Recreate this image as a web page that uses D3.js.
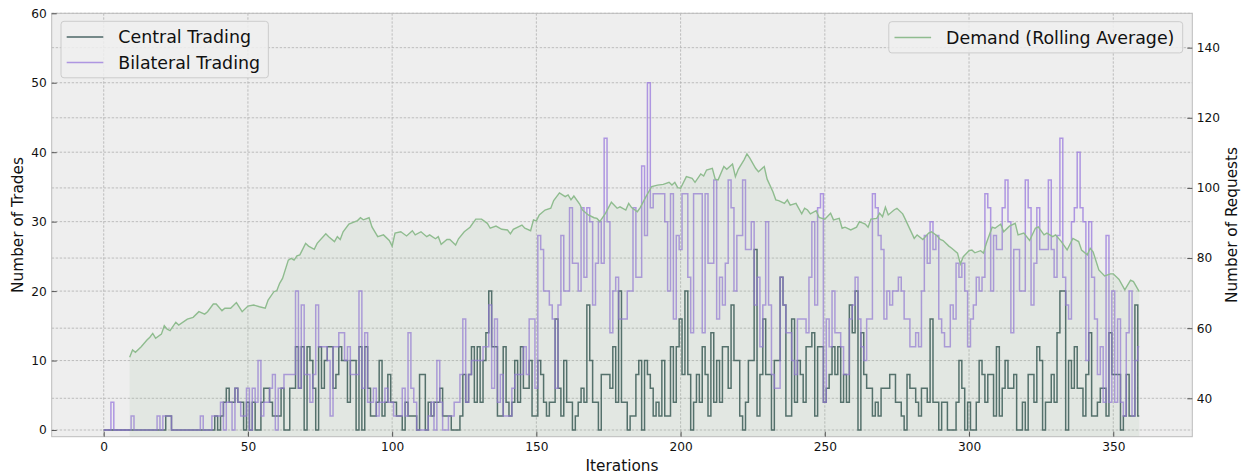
<!DOCTYPE html>
<html><head><meta charset="utf-8">
<script src="https://cdn.jsdelivr.net/npm/d3@7"></script>
<style>body{margin:0;background:#fff}svg{display:block;font-family:"DejaVu Sans",sans-serif}</style>
</head><body><svg id="chart" width="1247" height="474"></svg>
<script>
// ---------------- data ----------------
const centralTrades = [
 0,0,0,0,0,0,0,0,0,0,
 0,0,0,0,0,0,0,0,0,0,
 0,0,2,2,0,0,0,0,0,0,
 0,0,0,0,0,0,0,0,0,2,
 0,2,4,6,4,4,6,4,4,0,
 4,0,4,0,0,4,6,6,4,2,
 2,2,6,0,0,6,6,12,6,12,
 0,12,10,6,0,12,6,10,12,12,
 6,8,12,10,10,4,10,10,0,12,
 0,12,6,2,2,4,10,2,4,8,
 4,4,2,2,0,4,2,2,2,0,
 8,8,0,4,2,4,4,6,2,2,
 2,0,0,0,2,8,4,8,12,4,
 12,4,10,14,20,12,12,2,2,12,
 4,2,4,10,4,12,6,6,10,2,
 2,10,8,4,2,4,4,16,6,2,
 10,4,4,0,2,4,6,4,18,10,
 4,4,0,8,8,8,6,12,4,20,
 4,4,0,2,2,8,10,0,10,8,
 6,2,4,2,10,2,2,12,4,12,
 16,8,20,8,0,4,8,4,12,8,
 2,14,4,10,4,12,12,6,18,10,
 10,2,0,4,10,10,26,2,8,16,
 8,8,0,10,10,22,18,2,2,16,
 4,10,8,4,12,12,14,2,12,12,
 4,6,8,12,8,12,4,8,4,18,
 14,20,0,14,8,6,6,2,4,2,
 6,6,6,8,8,4,4,2,0,8,
 6,6,4,2,6,6,4,16,4,4,
 0,4,4,0,0,0,4,10,6,0,
 4,0,0,4,10,8,4,8,8,2,
 12,2,6,10,6,6,8,0,0,4,
 0,8,8,4,12,10,0,4,4,8,
 4,14,20,20,0,10,6,12,6,6,
 2,8,14,2,2,4,6,6,2,14,
 8,8,8,0,2,8,2,2,18,2
];
const bilateralTrades = [
 0,0,0,4,0,0,0,0,0,0,
 2,0,0,0,0,0,0,0,0,2,
 0,2,2,2,0,0,0,0,0,0,
 0,0,0,0,2,0,0,0,2,2,
 2,4,0,4,4,0,6,4,2,2,
 6,0,6,4,10,2,4,4,6,8,
 0,6,6,8,8,8,8,20,6,18,
 8,8,4,8,18,12,12,12,10,2,
 12,12,14,14,10,12,8,8,8,20,
 6,14,4,4,6,2,4,4,6,4,
 4,2,2,2,6,2,14,6,4,0,
 0,0,0,2,4,0,10,4,0,0,
 2,2,4,4,8,16,4,8,10,10,
 10,10,12,12,18,6,16,4,8,2,
 2,2,6,8,8,8,12,8,16,16,
 6,28,26,20,20,18,16,6,18,28,
 20,20,32,24,24,20,32,22,32,30,
 18,24,30,24,42,30,14,20,22,16,
 16,16,20,20,32,22,22,38,28,50,
 32,34,34,34,34,30,20,34,16,28,
 26,34,34,22,14,34,34,34,14,34,
 24,24,36,16,22,18,24,36,32,20,
 28,28,36,26,26,30,18,22,12,18,
 30,18,8,6,6,22,18,14,14,10,
 8,16,16,16,14,22,30,18,32,34,
 4,16,12,20,14,14,12,8,8,16,
 18,22,16,12,10,16,16,34,32,28,
 26,16,20,18,20,20,22,20,16,16,
 12,12,14,12,20,28,24,30,26,28,
 16,14,12,12,18,16,24,22,24,20,
 12,16,18,22,20,22,34,32,20,28,
 26,26,32,36,30,14,26,26,20,20,
 36,32,18,24,32,26,26,26,36,26,
 22,28,42,22,18,16,30,32,40,32,
 30,10,30,22,16,8,12,4,28,4,
 20,4,16,4,2,14,20,2,10,12
];
const demandIter = [9,10,11,13,15,16,17,18,20,21,22,23,25,26,29,31,33,35,36,38,39,41,42,44,46,48,50,52,54,56,57,59,60,61,62,64,65,66,67,68,70,71,73,74,77,78,80,81,82,83,85,88,89,90,92,93,95,97,99,100,101,103,105,107,108,110,112,113,115,116,117,119,120,122,123,125,127,129,131,133,134,136,138,140,141,142,145,146,148,149,150,151,153,155,156,158,160,161,162,163,165,166,168,170,171,172,174,176,178,179,181,182,183,185,186,188,190,192,194,196,197,198,199,200,202,204,205,207,208,209,211,212,213,215,216,218,219,220,222,223,224,226,227,229,230,232,233,234,236,237,238,240,242,243,244,245,247,248,250,252,253,255,256,257,259,261,262,264,265,266,268,269,270,271,272,274,275,277,278,279,281,282,284,286,287,289,290,291,293,294,296,297,298,300,301,302,304,305,306,308,309,311,312,314,316,317,319,321,323,324,326,327,329,330,332,334,336,338,339,341,342,343,345,347,349,350,352,354,356,357,359];
const demandAvg = [51.7,53.8,53.1,54.7,56.6,57.4,58.5,57.1,58.3,60.7,59.7,59.3,61.7,60.9,62.6,63.1,64.7,64.0,64.7,66.9,66.9,65.0,65.7,65.7,67.3,64.7,66.3,66.6,66.1,65.7,68.0,70.4,70.7,72.8,74.2,79.4,79.9,79.4,80.6,80.9,84.2,83.4,82.5,84.2,86.9,86.1,84.7,86.1,85.3,87.5,89.7,90.7,91.5,90.9,91.5,88.9,86.1,86.6,85.0,83.4,87.1,87.5,86.3,87.8,86.6,87.5,86.1,86.6,85.5,86.1,83.9,85.3,85.3,83.7,85.5,87.5,88.8,91.1,91.1,89.9,88.5,89.1,88.2,88.0,86.9,88.2,89.4,88.5,87.8,90.9,90.6,92.3,93.7,94.2,96.4,98.6,97.5,98.0,96.6,97.7,95.4,93.7,92.3,91.5,91.3,90.4,92.8,95.9,94.2,94.6,93.7,95.6,94.4,93.2,94.4,97.5,100.4,100.8,101.0,101.6,100.8,101.6,100.1,99.9,103.2,102.7,101.6,104.0,103.4,105.1,105.6,102.5,102.3,106.1,105.3,106.8,103.2,105.3,108.0,109.7,108.5,105.6,104.6,106.1,102.5,98.9,96.6,96.4,95.6,96.6,95.1,95.6,92.6,94.2,93.7,92.6,93.5,91.6,91.1,92.8,90.9,91.3,88.5,88.8,88.0,88.8,90.4,89.7,88.8,91.1,91.3,92.8,91.8,94.5,92.3,93.7,94.2,92.6,90.9,89.1,85.6,86.6,85.3,87.1,87.5,86.3,85.3,85.0,83.4,82.8,81.4,78.3,80.4,82.1,82.3,81.5,82.1,81.4,84.2,88.8,88.5,89.7,87.5,89.1,89.9,86.6,87.1,85.0,88.5,88.9,86.6,87.1,86.1,86.6,84.7,82.3,85.6,84.7,82.3,80.9,82.8,81.8,76.6,74.9,75.5,75.5,73.9,70.9,73.7,73.3,70.4];
const xTicks = [0,50,100,150,200,250,300,350];
const leftTicks = [0,10,20,30,40,50,60];
const rightTicks = [40,60,80,100,120,140];
const tradeNames = ["Central Trading","Bilateral Trading"];
const demandName = "Demand (Rolling Average)";
const axisNames = {x:"Iterations", left:"Number of Trades", right:"Number of Requests"};

// ---------------- layout ----------------
const plot = {left:51.7, right:1192.3, top:13.3, bottom:436.7};
const x  = d3.scaleLinear().domain([-18.03,377.4]).range([plot.left,plot.right]);
const yL = d3.scaleLinear().domain([-0.965,60]).range([plot.bottom,plot.top]);
const yR = d3.scaleLinear().domain([29.05,149.8]).range([plot.bottom,plot.top]);

const svg = d3.select("#chart");
svg.append("defs").append("clipPath").attr("id","clip")
  .append("rect").attr("x",plot.left).attr("y",plot.top)
  .attr("width",plot.right-plot.left).attr("height",plot.bottom-plot.top);

svg.append("rect").attr("x",plot.left).attr("y",plot.top)
  .attr("width",plot.right-plot.left).attr("height",plot.bottom-plot.top)
  .attr("fill","#eeeeee");

// grid
const grid = svg.append("g").attr("stroke","#b0b0b0").attr("stroke-width",0.8)
  .attr("stroke-dasharray","2.4,1.6");
grid.selectAll(".gx").data(xTicks).join("line")
  .attr("x1",d=>x(d)).attr("x2",d=>x(d)).attr("y1",plot.top).attr("y2",plot.bottom);
grid.selectAll(".gl").data(leftTicks).join("line")
  .attr("x1",plot.left).attr("x2",plot.right).attr("y1",d=>yL(d)).attr("y2",d=>yL(d));
grid.selectAll(".gr").data(rightTicks).join("line")
  .attr("x1",plot.left).attr("x2",plot.right).attr("y1",d=>yR(d)).attr("y2",d=>yR(d));

const body = svg.append("g").attr("clip-path","url(#clip)");
const idx = d3.range(centralTrades.length);
const stepLine = arr => d3.line().curve(d3.curveStep).x(i=>x(i)).y(i=>yL(arr[i]))(idx);

body.append("path").attr("d",stepLine(centralTrades))
  .attr("fill","none").attr("stroke","#2f4f4f").attr("stroke-opacity",0.85).attr("stroke-width",1.5);
body.append("path").attr("d",stepLine(bilateralTrades))
  .attr("fill","none").attr("stroke","#9370db").attr("stroke-opacity",0.7).attr("stroke-width",1.5);

const dIdx = d3.range(demandIter.length);
body.append("path")
  .attr("d", d3.area().x(i=>x(demandIter[i])).y0(plot.bottom+2).y1(i=>yR(demandAvg[i]))(dIdx))
  .attr("fill","#8fbc8f").attr("fill-opacity",0.13);
body.append("path")
  .attr("d", d3.line().x(i=>x(demandIter[i])).y(i=>yR(demandAvg[i]))(dIdx))
  .attr("fill","none").attr("stroke","#8fbc8f").attr("stroke-width",1.4);

// frame
svg.append("rect").attr("x",plot.left).attr("y",plot.top)
  .attr("width",plot.right-plot.left).attr("height",plot.bottom-plot.top)
  .attr("fill","none").attr("stroke","#bcbcbc").attr("stroke-width",1);

// axes
function style(g){
  g.select(".domain").remove();
  g.selectAll(".tick line").attr("stroke","#333").attr("stroke-width",0.8);
  g.selectAll(".tick text").attr("fill","#111").style("font-size","12.2px").style("font-family","DejaVu Sans");
}
svg.append("g").attr("transform",`translate(0,${plot.bottom})`)
  .call(d3.axisBottom(x).tickValues(xTicks).tickSize(-5).tickPadding(6)).call(style);
svg.append("g").attr("transform",`translate(${plot.left},0)`)
  .call(d3.axisLeft(yL).tickValues(leftTicks).tickSize(-5).tickPadding(5)).call(style);
svg.append("g").attr("transform",`translate(${plot.right},0)`)
  .call(d3.axisRight(yR).tickValues(rightTicks).tickSize(-5).tickPadding(4.5)).call(style);

// axis titles
svg.append("text").attr("x",(plot.left+plot.right)/2).attr("y",470.5)
  .attr("text-anchor","middle").style("font-size","15.3px").attr("fill","#111").text(axisNames.x);
svg.append("text").attr("transform",`translate(23,${(plot.top+plot.bottom)/2}) rotate(-90)`)
  .attr("text-anchor","middle").style("font-size","15.3px").attr("fill","#111").text(axisNames.left);
svg.append("text").attr("transform",`translate(1237,${(plot.top+plot.bottom)/2}) rotate(-90)`)
  .attr("text-anchor","middle").style("font-size","15.3px").attr("fill","#111").text(axisNames.right);

// legends (box sized from measured text)
function legend(anchorX, y0, alignRight, items){
  const g = svg.append("g");
  const box = g.append("rect");
  const texts = items.map((it,k)=>{
    const yy = y0+15.8+k*25.3;
    const ln = g.append("line").attr("y1",yy).attr("y2",yy)
      .attr("stroke",it.c).attr("stroke-opacity",it.o).attr("stroke-width",1.5);
    const tx = g.append("text").attr("y",yy).attr("dy","0.36em")
      .style("font-size","17.4px").attr("fill","#111").text(it.t);
    return {ln,tx};
  });
  const tw = d3.max(texts, d=>d.tx.node().getComputedTextLength());
  const w = 57.3 + tw + 8.3;
  const x0 = alignRight ? anchorX - w : anchorX;
  texts.forEach(d=>{ d.ln.attr("x1",x0+5.7).attr("x2",x0+42.3); d.tx.attr("x",x0+57.3); });
  box.attr("x",x0).attr("y",y0).attr("width",w).attr("height",5.9+items.length*25.3)
    .attr("rx",3).attr("fill","#eeeeee").attr("fill-opacity",0.85).attr("stroke","#cccccc");
}
legend(61,21.3,false,[{t:tradeNames[0],c:"#2f4f4f",o:0.85},{t:tradeNames[1],c:"#9370db",o:0.7}]);
legend(1182.7,21.7,true,[{t:demandName,c:"#8fbc8f",o:1}]);
</script></body></html>
